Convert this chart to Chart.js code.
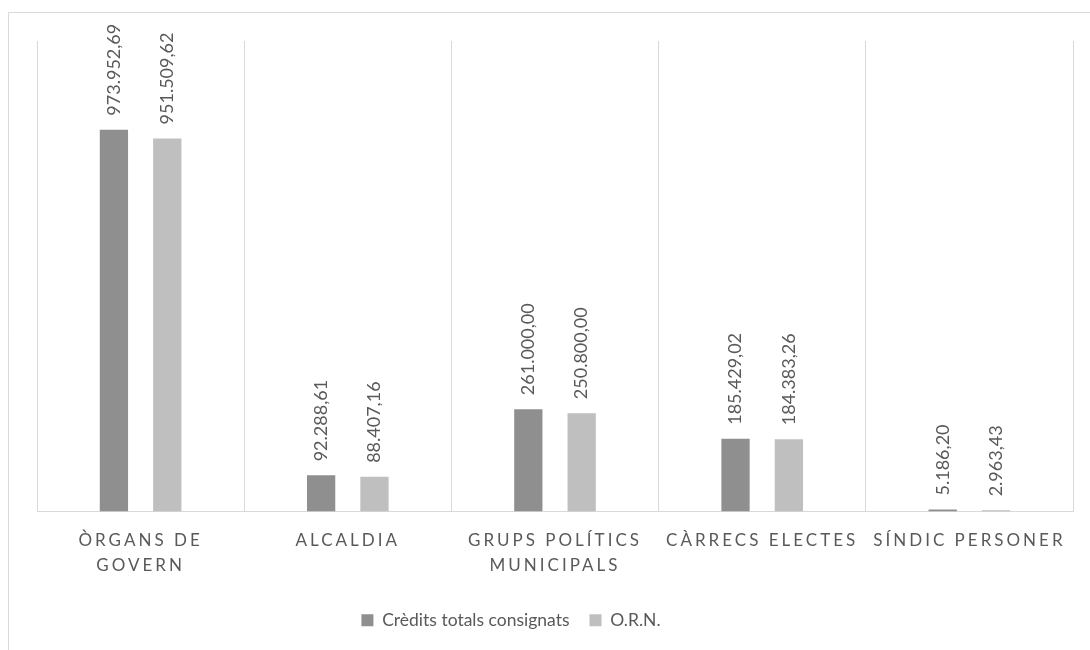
<!DOCTYPE html>
<html>
<head>
<meta charset="utf-8">
<script src="https://cdn.jsdelivr.net/npm/chart.js@4.4.0/dist/chart.umd.min.js"></script>
<style>
  html, body { margin: 0; padding: 0; background: #fff; }
  #wrap { position: relative; width: 1090px; height: 650px; }
</style>
</head>
<body>
<div id="wrap"><canvas id="chart" width="1090" height="650"></canvas></div>
<script>
// chart data
const categories = [['ÒRGANS DE', 'GOVERN'], 'ALCALDIA', ['GRUPS POLÍTICS', 'MUNICIPALS'], 'CÀRRECS ELECTES', 'SÍNDIC PERSONER'];
const creditsTotals = [973952.69, 92288.61, 261000.00, 185429.02, 5186.20];
const ornValues = [951509.62, 88407.16, 250800.00, 184383.26, 2963.43];
const seriesNames = ['Crèdits totals consignats', 'O.R.N.'];

const textColor = '#595959';
const lineColor = '#d9d9d9';

// 973952.69 -> "973.952,69"
const formatValue = (v) => {
  const parts = v.toFixed(2).split('.');
  return parts[0].replace(/\B(?=(\d{3})+(?!\d))/g, '.') + ',' + parts[1];
};

// category axis with spaced-out letters, like the original
class SpacedCategoryScale extends Chart.CategoryScale {
  drawLabels(area) {
    const ctx = this.ctx;
    ctx.save();
    ctx.letterSpacing = '3px';
    super.drawLabels(area);
    ctx.restore();
  }
}
SpacedCategoryScale.id = 'spacedCategory';
SpacedCategoryScale.defaults = Chart.CategoryScale.defaults;
Chart.register(SpacedCategoryScale);

// white background + the outer frame (top and left edges only visible)
const framePlugin = {
  id: 'frame',
  beforeDraw(chart) {
    const ctx = chart.ctx;
    ctx.save();
    ctx.fillStyle = '#fff';
    ctx.fillRect(0, 0, chart.width, chart.height);
    ctx.strokeStyle = lineColor;
    ctx.lineWidth = 1;
    ctx.beginPath();
    ctx.moveTo(8.5, chart.height);
    ctx.lineTo(8.5, 12.5);
    ctx.lineTo(chart.width, 12.5);
    ctx.stroke();
    ctx.restore();
  }
};

// rotated value labels above each bar
const valueLabels = {
  id: 'valueLabels',
  afterDatasetsDraw(chart) {
    const ctx = chart.ctx;
    chart.data.datasets.forEach((ds, i) => {
      chart.getDatasetMeta(i).data.forEach((bar, j) => {
        ctx.save();
        ctx.translate(bar.x, bar.y - 14);
        ctx.rotate(-Math.PI / 2);
        ctx.font = '18px Lato';
        ctx.fillStyle = textColor;
        ctx.textAlign = 'left';
        ctx.textBaseline = 'middle';
        ctx.fillText(formatValue(ds.data[j]), 0, 0);
        ctx.restore();
      });
    });
  }
};

// legend sits a bit left of centre in the original
const legendShift = {
  id: 'legendShift',
  afterLayout(chart) {
    chart.legend.left -= 44;
    chart.legend.right -= 44;
  }
};

new Chart(document.getElementById('chart'), {
  type: 'bar',
  data: {
    labels: categories,
    datasets: [
      {
        label: seriesNames[0],
        data: creditsTotals,
        backgroundColor: '#8f8f8f',
        barPercentage: 0.53,
        categoryPercentage: 0.515
      },
      {
        label: seriesNames[1],
        data: ornValues,
        backgroundColor: '#bfbfbf',
        barPercentage: 0.53,
        categoryPercentage: 0.515
      }
    ]
  },
  options: {
    responsive: false,
    animation: false,
    layout: { padding: { top: 41, left: 37, right: 17, bottom: 11 } },
    scales: {
      x: {
        type: 'spacedCategory',
        grid: { color: lineColor, drawTicks: false, offset: true },
        border: { color: lineColor },
        ticks: {
          color: textColor,
          font: { family: 'Lato', size: 17, lineHeight: 1.5 },
          padding: 16,
          maxRotation: 0,
          autoSkip: false
        },
        afterFit(scale) { scale.height = 80; }
      },
      y: {
        display: false,
        min: 0,
        max: 1200000
      }
    },
    plugins: {
      legend: {
        position: 'bottom',
        labels: {
          color: textColor,
          font: { family: 'Lato', size: 17.5 },
          boxWidth: 12,
          boxHeight: 12,
          padding: 20
        }
      },
      tooltip: { enabled: false }
    }
  },
  plugins: [framePlugin, valueLabels, legendShift]
});
</script>
</body>
</html>
